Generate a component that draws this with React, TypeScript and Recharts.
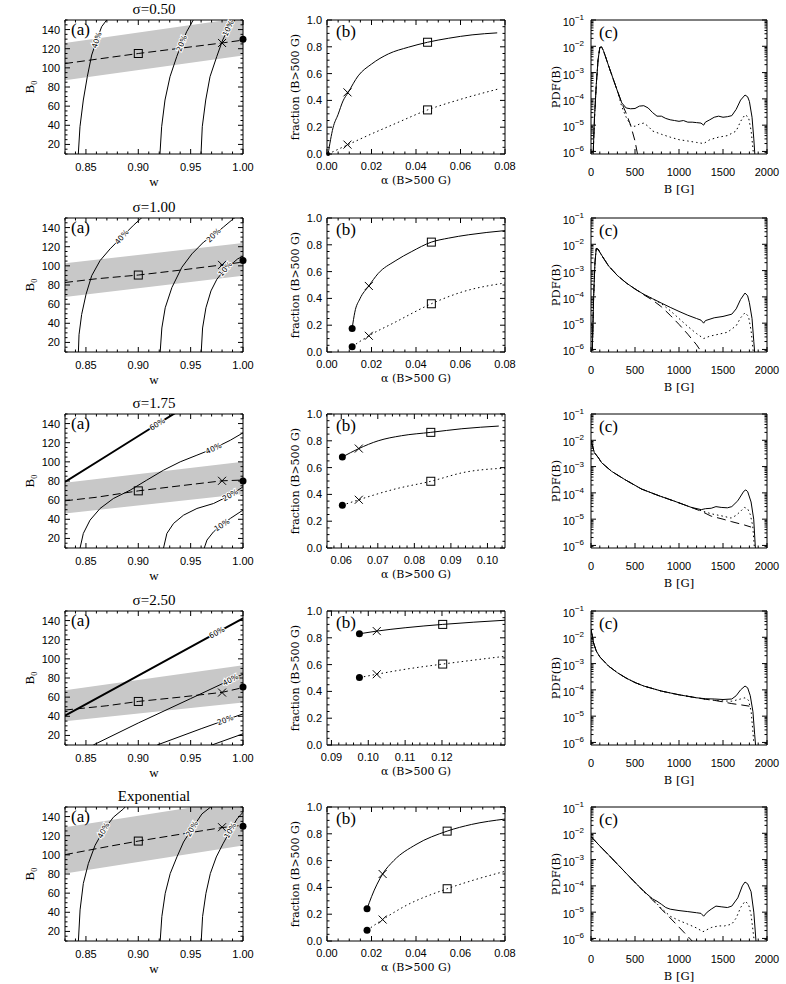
import React from "react";
import { ComposedChart, Line, Area, Scatter, XAxis, YAxis } from "recharts";

type P = [number, number];
type B3 = [number, number, number];

const rowTitles = ["σ=0.50", "σ=1.00", "σ=1.75", "σ=2.50", "Exponential"];

// ---------- column (a): B0 vs w ----------
const a1Band: B3[] = [[0.83, 87, 126], [1.0, 113, 152.5]];
const a1Dash: P[] = [[0.83, 104.5], [0.86, 109], [0.9, 115], [0.94, 120.5], [0.98, 126], [1.0, 129]];
const a1C40: P[] = [[0.8427, 10], [0.8443, 38.5], [0.8475, 66.4], [0.8513, 90.8], [0.8555, 113.4], [0.8603, 129.1], [0.865, 143], [0.8698, 150], [0.8715, 153]];
const a1C20: P[] = [[0.9207, 10], [0.9223, 38.5], [0.9255, 66.4], [0.9303, 90.8], [0.9367, 111.7], [0.9415, 125.7], [0.9462, 137.8], [0.9525, 150], [0.954, 153]];
const a1C10: P[] = [[0.9599, 10], [0.9611, 38.5], [0.9644, 66.4], [0.9685, 90.8], [0.9749, 111.7], [0.9806, 129.1], [0.986, 141.3], [0.9924, 150], [0.994, 153]];
const a1Marks: P[] = [[0.9, 115], [0.98, 126], [1.0, 130]];

const a2Band: B3[] = [[0.83, 67.5, 102.7], [1.0, 89.7, 123.8]];
const a2Dash: P[] = [[0.83, 82.6], [0.86, 86.5], [0.9, 90.4], [0.94, 95.5], [0.98, 101], [1.0, 104]];
const a2C40: P[] = [[0.8428, 10], [0.8434, 28.1], [0.8459, 49.2], [0.8501, 70.3], [0.8555, 89.7], [0.8635, 105.5], [0.8731, 117.8], [0.8842, 130.1], [0.8954, 142.4], [0.905, 152]];
const a2C20: P[] = [[0.9209, 10], [0.9225, 35.1], [0.9257, 56.2], [0.9321, 77.4], [0.9416, 98.5], [0.9512, 112.5], [0.9624, 124.9], [0.9719, 131.9], [0.9815, 140.7], [0.9911, 149.5], [0.9959, 153]];
const a2C10: P[] = [[0.9601, 10], [0.9614, 35.1], [0.9646, 56.2], [0.9694, 73.8], [0.9751, 86.1], [0.9831, 96.7], [0.9911, 103.7], [0.9949, 107.3], [1.0, 110]];
const a2Marks: P[] = [[0.9, 90.4], [0.98, 101], [1.0, 105.5]];

const a3Band: B3[] = [[0.83, 46.1, 78.1], [1.0, 66.3, 100]];
const a3Dash: P[] = [[0.83, 59.3], [0.86, 63], [0.9, 69.7], [0.94, 75], [0.98, 80.2], [1.0, 81]];
const a3C60: P[] = [[0.83, 79], [0.87, 106.4], [0.918, 139.3], [0.9367, 152]];
const a3C40: P[] = [[0.8444, 10], [0.8475, 25.2], [0.8539, 39.1], [0.8635, 51.3], [0.8762, 61.7], [0.8922, 70.4], [0.9081, 80.9], [0.9241, 91.3], [0.94, 100], [0.956, 107], [0.9719, 113.9], [0.9879, 122.6], [1.0, 130.3]];
const a3C20: P[] = [[0.9241, 10], [0.9273, 25.2], [0.9337, 35.7], [0.9432, 44.3], [0.956, 51.3], [0.9719, 56.5], [0.9879, 65.2], [1.0, 73.9]];
const a3C10: P[] = [[0.963, 10], [0.9656, 18.3], [0.9719, 27], [0.9799, 33.9], [0.9879, 40.9], [1.0, 49.6]];
const a3Marks: P[] = [[0.9, 69.7], [0.98, 80.2], [1.0, 80]];

const a4Band: B3[] = [[0.83, 34.8, 67.2], [1.0, 54.5, 93.4]];
const a4Dash: P[] = [[0.83, 46.5], [0.87, 51], [0.9, 55.5], [0.94, 60], [0.98, 65], [1.0, 70]];
const a4C60: P[] = [[0.83, 40.7], [0.9, 82.6], [0.975, 127.4], [1.0, 142.4]];
const a4C40: P[] = [[0.857, 10], [0.9, 33], [0.95, 58.5], [0.988, 78], [1.0, 84]];
const a4C20: P[] = [[0.918, 10], [0.96, 27], [0.983, 36], [1.0, 42.5]];
const a4C10: P[] = [[0.9703, 10], [1.0, 21.7]];
const a4Marks: P[] = [[0.9, 55.5], [0.98, 64.8], [1.0, 70.5]];

const a5Band: B3[] = [[0.83, 80.5, 128.9], [1.0, 109.9, 158]];
const a5Dash: P[] = [[0.83, 100.2], [0.87, 108.5], [0.9, 114.4], [0.94, 121.5], [0.98, 128.5], [1.0, 131]];
const a5C40: P[] = [[0.8428, 10], [0.8444, 42.5], [0.8475, 70.1], [0.8523, 90.9], [0.8587, 109.9], [0.8667, 125.5], [0.8762, 139.3], [0.8858, 148], [0.889, 152]];
const a5C20: P[] = [[0.9209, 10], [0.9225, 35.6], [0.9257, 59.8], [0.9305, 80.5], [0.9369, 97.8], [0.9432, 113.4], [0.9512, 127.2], [0.9608, 142.8], [0.9688, 149.7], [0.971, 152]];
const a5C10: P[] = [[0.9601, 10], [0.9614, 35.6], [0.9646, 59.8], [0.9688, 80.5], [0.9745, 97.8], [0.9809, 111.6], [0.9879, 125.5], [0.9943, 137.6], [1.0, 144.5]];
const a5Marks: P[] = [[0.9, 114.4], [0.98, 128.9], [1.0, 130]];

// ---------- column (b): fraction vs alpha ----------
const b1Solid: P[] = [[0.0005, 0], [0.0027, 0.195], [0.005, 0.296], [0.0072, 0.396], [0.0095, 0.459], [0.014, 0.583], [0.02, 0.671], [0.0276, 0.747], [0.0366, 0.797], [0.0452, 0.834], [0.0547, 0.864], [0.0652, 0.889], [0.0765, 0.904]];
const b1Dot: P[] = [[0.0005, 0], [0.0095, 0.07], [0.02, 0.15], [0.03, 0.222], [0.0452, 0.329], [0.06, 0.408], [0.0765, 0.483]];
const b1Sq: P[] = [[0.0452, 0.834], [0.0452, 0.329]];
const b1Cr: P[] = [[0.0092, 0.46], [0.0092, 0.07]];
const b1Dt: P[] = [[0.0005, 0]];

const b2Solid: P[] = [[0.0113, 0.176], [0.0125, 0.297], [0.0148, 0.397], [0.0188, 0.493], [0.023, 0.586], [0.0306, 0.679], [0.0381, 0.75], [0.0469, 0.82], [0.0547, 0.85], [0.0637, 0.875], [0.08, 0.906]];
const b2Dot: P[] = [[0.0113, 0.04], [0.0188, 0.121], [0.0306, 0.222], [0.0469, 0.36], [0.0607, 0.448], [0.08, 0.515]];
const b2Sq: P[] = [[0.0469, 0.82], [0.0469, 0.36]];
const b2Cr: P[] = [[0.0188, 0.493], [0.0188, 0.121]];
const b2Dt: P[] = [[0.0113, 0.176], [0.0113, 0.04]];

const b3Solid: P[] = [[0.0603, 0.679], [0.0648, 0.742], [0.0701, 0.8], [0.0765, 0.838], [0.0845, 0.863], [0.093, 0.89], [0.1031, 0.91]];
const b3Dot: P[] = [[0.0603, 0.319], [0.0648, 0.36], [0.0747, 0.44], [0.0845, 0.498], [0.0939, 0.566], [0.1048, 0.596]];
const b3Sq: P[] = [[0.0845, 0.863], [0.0845, 0.498]];
const b3Cr: P[] = [[0.0648, 0.742], [0.0648, 0.36]];
const b3Dt: P[] = [[0.0603, 0.679], [0.0603, 0.319]];

const b4Solid: P[] = [[0.0976, 0.83], [0.1023, 0.85], [0.11, 0.875], [0.1202, 0.9], [0.1371, 0.931]];
const b4Dot: P[] = [[0.0976, 0.503], [0.1023, 0.528], [0.11, 0.565], [0.1202, 0.604], [0.1371, 0.662]];
const b4Sq: P[] = [[0.1202, 0.9], [0.1202, 0.604]];
const b4Cr: P[] = [[0.1023, 0.85], [0.1023, 0.528]];
const b4Dt: P[] = [[0.0976, 0.83], [0.0976, 0.503]];

const b5Solid: P[] = [[0.018, 0.24], [0.02, 0.33], [0.025, 0.5], [0.03, 0.6], [0.04, 0.72], [0.054, 0.82], [0.065, 0.87], [0.08, 0.91]];
const b5Dot: P[] = [[0.018, 0.08], [0.025, 0.16], [0.035, 0.26], [0.054, 0.39], [0.065, 0.45], [0.08, 0.52]];
const b5Sq: P[] = [[0.054, 0.82], [0.054, 0.39]];
const b5Cr: P[] = [[0.025, 0.5], [0.025, 0.16]];
const b5Dt: P[] = [[0.018, 0.24], [0.018, 0.08]];

// ---------- column (c): PDF(B) ----------
const c1Solid: P[] = [[20, 3e-7], [40, 2e-5], [60, 3.5e-4], [80, 3e-3], [100, 9e-3], [120, 9.5e-3], [140, 7e-3], [160, 4.5e-3], [200, 1.8e-3], [250, 6e-4], [300, 2e-4], [350, 7e-5], [400, 4.5e-5], [450, 4.2e-5], [500, 4.3e-5], [550, 5.3e-5], [600, 5.5e-5], [650, 4.5e-5], [700, 3e-5], [750, 2.2e-5], [800, 2.2e-5], [850, 1.8e-5], [900, 1.6e-5], [950, 1.5e-5], [1000, 1.4e-5], [1050, 1.5e-5], [1100, 1.3e-5], [1150, 1.3e-5], [1200, 1.25e-5], [1250, 1.2e-5], [1280, 1.0e-5], [1300, 1.3e-5], [1350, 1.6e-5], [1400, 2e-5], [1450, 2.2e-5], [1500, 2e-5], [1550, 2.1e-5], [1600, 2.3e-5], [1650, 4e-5], [1700, 9e-5], [1750, 1.4e-4], [1780, 1.2e-4], [1800, 8e-5], [1830, 2e-5], [1850, 3e-6], [1870, 3e-7]];
const c1Dot: P[] = [[20, 3e-7], [40, 2e-5], [60, 3.5e-4], [80, 3e-3], [100, 9e-3], [120, 9.5e-3], [140, 7e-3], [160, 4.5e-3], [200, 1.8e-3], [250, 6e-4], [300, 2e-4], [350, 5e-5], [400, 2e-5], [450, 1e-5], [500, 9e-6], [550, 1.1e-5], [600, 1.2e-5], [650, 9e-6], [700, 6e-6], [800, 4.5e-6], [900, 3.5e-6], [1000, 2.8e-6], [1100, 2.5e-6], [1200, 2.2e-6], [1280, 2e-6], [1350, 2.8e-6], [1450, 3.5e-6], [1550, 4e-6], [1650, 6e-6], [1700, 1.4e-5], [1750, 2.5e-5], [1790, 2e-5], [1820, 6e-6], [1850, 6e-7]];
const c1Dash: P[] = [[20, 3e-7], [40, 2e-5], [60, 3.5e-4], [80, 3e-3], [100, 9e-3], [120, 9.5e-3], [140, 7e-3], [160, 4.5e-3], [200, 1.8e-3], [250, 6e-4], [300, 2e-4], [350, 7e-5], [400, 2.8e-5], [450, 1e-5], [500, 2.5e-6], [540, 5e-7]];

const c2Solid: P[] = [[15, 1e-6], [30, 1e-4], [45, 2e-3], [60, 7e-3], [80, 6.5e-3], [100, 5e-3], [150, 2.7e-3], [200, 1.5e-3], [300, 6.5e-4], [400, 3.4e-4], [500, 2e-4], [600, 1.25e-4], [700, 8.5e-5], [800, 5.8e-5], [900, 4e-5], [1000, 2.8e-5], [1100, 2e-5], [1200, 1.5e-5], [1250, 1.3e-5], [1280, 1e-5], [1300, 1.25e-5], [1400, 1.6e-5], [1500, 1.8e-5], [1600, 2.2e-5], [1650, 3.5e-5], [1700, 8e-5], [1750, 1.4e-4], [1780, 1.1e-4], [1800, 6e-5], [1830, 1.5e-5], [1850, 2e-6], [1870, 3e-7]];
const c2Dot: P[] = [[15, 1e-6], [30, 1e-4], [45, 2e-3], [60, 7e-3], [80, 6.5e-3], [100, 5e-3], [150, 2.7e-3], [200, 1.5e-3], [300, 6.5e-4], [400, 3.4e-4], [500, 2e-4], [600, 1.25e-4], [700, 8.5e-5], [800, 5.5e-5], [900, 3e-5], [1000, 1.5e-5], [1100, 7.5e-6], [1200, 4e-6], [1280, 2.6e-6], [1350, 3.2e-6], [1450, 3.8e-6], [1550, 4.5e-6], [1650, 8e-6], [1700, 1.6e-5], [1750, 2.5e-5], [1790, 1.8e-5], [1820, 5e-6], [1850, 5e-7]];
const c2Dash: P[] = [[15, 1e-6], [30, 1e-4], [45, 2e-3], [60, 7e-3], [80, 6.5e-3], [100, 5e-3], [150, 2.7e-3], [200, 1.5e-3], [300, 6.5e-4], [400, 3.4e-4], [500, 2e-4], [600, 1.2e-4], [700, 7.5e-5], [800, 4.2e-5], [900, 2e-5], [1000, 9e-6], [1100, 3.8e-6], [1200, 1.5e-6], [1280, 6e-7]];

const c3Solid: P[] = [[0, 1e-2], [38, 3.4e-3], [83, 2.2e-3], [121, 1.4e-3], [234, 6.6e-4], [385, 3.2e-4], [574, 1.4e-4], [762, 8e-5], [951, 4.8e-5], [1140, 2.8e-5], [1253, 2.3e-5], [1300, 2.5e-5], [1366, 2.6e-5], [1420, 3e-5], [1479, 2.8e-5], [1550, 2.7e-5], [1600, 3e-5], [1668, 5e-5], [1736, 1.15e-4], [1760, 1.3e-4], [1781, 1.1e-4], [1819, 4.5e-5], [1849, 1e-5], [1868, 8e-7]];
const c3Dot: P[] = [[0, 1e-2], [38, 3.4e-3], [83, 2.2e-3], [121, 1.4e-3], [234, 6.6e-4], [385, 3.2e-4], [574, 1.4e-4], [762, 8e-5], [951, 4.8e-5], [1140, 2.8e-5], [1253, 2.1e-5], [1366, 1.6e-5], [1500, 1.3e-5], [1592, 1.1e-5], [1650, 1.4e-5], [1700, 2e-5], [1743, 2.8e-5], [1780, 2.5e-5], [1810, 1.5e-5], [1838, 5.5e-6], [1857, 8e-7]];
const c3Dash: P[] = [[0, 1e-2], [38, 3.4e-3], [83, 2.2e-3], [121, 1.4e-3], [234, 6.6e-4], [385, 3.2e-4], [574, 1.4e-4], [762, 8e-5], [951, 4.8e-5], [1140, 2.8e-5], [1253, 2e-5], [1366, 1.3e-5], [1500, 1e-5], [1600, 8e-6], [1743, 6e-6], [1819, 5e-6]];

const c4Solid: P[] = [[0, 2e-2], [30, 6e-3], [60, 3e-3], [100, 1.8e-3], [200, 8e-4], [300, 4.5e-4], [400, 2.8e-4], [500, 1.9e-4], [600, 1.4e-4], [800, 9e-5], [1000, 6.5e-5], [1200, 5e-5], [1300, 4.6e-5], [1400, 4.5e-5], [1500, 4.3e-5], [1600, 4.5e-5], [1650, 6e-5], [1700, 1e-4], [1750, 1.4e-4], [1780, 1.2e-4], [1810, 6e-5], [1840, 1.5e-5], [1860, 2e-6], [1875, 5e-7]];
const c4Dot: P[] = [[0, 2e-2], [30, 6e-3], [60, 3e-3], [100, 1.8e-3], [200, 8e-4], [300, 4.5e-4], [400, 2.8e-4], [500, 1.9e-4], [600, 1.4e-4], [800, 9e-5], [1000, 6.5e-5], [1200, 5e-5], [1300, 4.4e-5], [1400, 4e-5], [1500, 3.8e-5], [1600, 3.7e-5], [1700, 4.5e-5], [1750, 5e-5], [1790, 4e-5], [1820, 1.5e-5], [1850, 1e-6]];
const c4Dash: P[] = [[0, 2e-2], [30, 6e-3], [60, 3e-3], [100, 1.8e-3], [200, 8e-4], [300, 4.5e-4], [400, 2.8e-4], [500, 1.9e-4], [600, 1.4e-4], [800, 9e-5], [1000, 6.5e-5], [1200, 5e-5], [1300, 4.4e-5], [1400, 4e-5], [1500, 3.5e-5], [1600, 3e-5], [1700, 2.7e-5], [1800, 2.4e-5]];

const c5Solid: P[] = [[0, 7.5e-3], [100, 3.3e-3], [200, 1.5e-3], [300, 6.7e-4], [400, 3e-4], [500, 1.35e-4], [600, 6.2e-5], [700, 3.2e-5], [750, 2.6e-5], [800, 2e-5], [850, 1.5e-5], [900, 1.3e-5], [1000, 1.15e-5], [1100, 1.05e-5], [1200, 9.5e-6], [1250, 9e-6], [1280, 7e-6], [1320, 1e-5], [1366, 1.3e-5], [1420, 1.7e-5], [1479, 1.6e-5], [1550, 1.5e-5], [1600, 1.7e-5], [1668, 3.5e-5], [1720, 1e-4], [1750, 1.4e-4], [1780, 1.2e-4], [1819, 6e-5], [1850, 1e-5], [1876, 7e-7]];
const c5Dot: P[] = [[0, 7.5e-3], [100, 3.3e-3], [200, 1.5e-3], [300, 6.7e-4], [400, 3e-4], [500, 1.35e-4], [600, 6.2e-5], [700, 3.1e-5], [800, 1.4e-5], [900, 7e-6], [1000, 4.8e-6], [1100, 3.5e-6], [1200, 2.5e-6], [1272, 1.8e-6], [1366, 2.6e-6], [1450, 3e-6], [1517, 3e-6], [1600, 3.5e-6], [1650, 6e-6], [1700, 1.5e-5], [1750, 2.6e-5], [1790, 2e-5], [1819, 8e-6], [1857, 7e-7]];
const c5Dash: P[] = [[0, 7.5e-3], [100, 3.3e-3], [200, 1.5e-3], [300, 6.7e-4], [400, 3e-4], [500, 1.35e-4], [600, 6.2e-5], [700, 2.9e-5], [800, 1.3e-5], [900, 6e-6], [1000, 2.7e-6], [1100, 1.2e-6], [1150, 8e-7]];

// ---------- axis ticks ----------
const steps = (a: number, b: number, s: number) => {
  const r: number[] = [];
  for (let v = a; v <= b + s / 1000; v += s) r.push(+v.toFixed(6));
  return r;
};
const near = (list: number[], v: number) => list.some((m) => Math.abs(m - v) <= Math.abs(m) * 1e-6 + 1e-9);
const minors = (all: number[], maj: number[]) => all.filter((v) => !near(maj, v));

const wMaj = [0.85, 0.9, 0.95, 1.0];
const wMin = minors(steps(0.83, 1.0, 0.01), wMaj);
const bMaj = [20, 40, 60, 80, 100, 120, 140];
const bMin = minors(steps(10, 150, 5), bMaj);

const alphaMaj = [0, 0.02, 0.04, 0.06, 0.08];
const alphaMin = minors(steps(0, 0.08, 0.005), alphaMaj);
const alpha3Maj = [0.06, 0.07, 0.08, 0.09, 0.1];
const alpha3Min = minors(steps(0.056, 0.104, 0.002), alpha3Maj);
const alpha4Maj = [0.09, 0.1, 0.11, 0.12];
const alpha4Min = minors(steps(0.09, 0.136, 0.002), alpha4Maj);
const fracMaj = [0, 0.2, 0.4, 0.6, 0.8, 1.0];
const fracMin = minors(steps(0, 1, 0.05), fracMaj);

const bgMaj = [0, 500, 1000, 1500, 2000];
const bgMin = minors(steps(0, 2000, 100), bgMaj);
const pdfMaj = [1e-6, 1e-5, 1e-4, 1e-3, 1e-2, 1e-1];
const pdfMin = [-7, -6, -5, -4, -3, -2].flatMap((d) => [2, 3, 4, 5, 6, 7, 8, 9].map((k) => +(k * Math.pow(10, d)).toPrecision(3))).filter((v) => v > 8e-7 && v < 0.1);

const pts = (a: P[]) => a.map(([x, y]) => ({ x, y }));
const band = (a: B3[]) => a.map(([x, lo, hi]) => ({ x, band: [lo, hi] }));

type Side = "b" | "t" | "l" | "r";
const tickFont = { fontFamily: "Liberation Sans, Arial, sans-serif", fontSize: 11, fill: "#000" };

function makeTick(side: Side, major: number[], fmt: ((v: number) => React.ReactNode) | null, gap: number, log = false) {
  return (p: any) => {
    const v = p.payload.value;
    const big = near(major, v);
    const L = big ? 5 : 2.5;
    const x = p.x;
    const y = p.y;
    let d = "";
    if (side === "b") d = `M${x},${y}V${y - L}`;
    else if (side === "t") d = `M${x},${y}V${y + L}`;
    else if (side === "l") d = `M${x},${y}H${x + L}`;
    else d = `M${x},${y}H${x - L}`;
    return (
      <g>
        <path d={d} stroke="#000" strokeWidth={1} />
        {big && fmt && side === "b" && (
          <text x={x} y={y + gap} textAnchor="middle" {...tickFont}>{fmt(v)}</text>
        )}
        {big && fmt && side === "l" && (
          <text x={x - gap} y={y + (log ? 6 : 4)} textAnchor="end" {...tickFont}>{fmt(v)}</text>
        )}
      </g>
    );
  };
}

const fmtPow = (v: number) => {
  const n = Math.round(Math.log10(v));
  return (
    <>
      <tspan>10</tspan>
      <tspan dy={-6} fontSize={8}>{"−" + Math.abs(n)}</tspan>
    </>
  );
};

const sqShape = (p: any) => <rect x={p.cx - 4} y={p.cy - 4} width={8} height={8} fill="none" stroke="#000" strokeWidth={1} />;
const crShape = (p: any) => (
  <path d={`M${p.cx - 4},${p.cy - 4}L${p.cx + 4},${p.cy + 4}M${p.cx - 4},${p.cy + 4}L${p.cx + 4},${p.cy - 4}`} stroke="#000" strokeWidth={1} />
);
const dotShape = (r: number) => (p: any) => <circle cx={p.cx} cy={p.cy} r={r} fill="#000" />;

const contourLabel = (text: string, idx: number, angle: number) => (p: any) =>
  p.index === idx ? (
    <text
      x={p.x}
      y={p.y}
      textAnchor="middle"
      dominantBaseline="central"
      transform={`rotate(${angle} ${p.x} ${p.y})`}
      fontFamily="DejaVu Sans, sans-serif"
      fontSize={7.5}
      fill="#000"
      stroke="#fff"
      strokeWidth={2}
      paintOrder="stroke"
    >
      {text}
    </text>
  ) : (
    <g />
  );

const W = 262;
const H = 197;
const rowTop = [20, 218, 414, 611, 807];
const plotH = 134;
const colLeft = [0, 262, 524];
const mLeft = [65, 65, 67];

interface FrameProps {
  col: number;
  row: number;
  xDom: [number, number];
  yDom: [number, number];
  xMaj: number[];
  xMin: number[];
  yMaj: number[];
  yMin: number[];
  fx: (v: number) => React.ReactNode;
  fy: (v: number) => React.ReactNode;
  xGap: number;
  yGap: number;
  log?: boolean;
  data?: any[];
  children: React.ReactNode;
}

// each axis is 1px thick, so margins are 1px smaller than the plot offsets
function Frame(f: FrameProps) {
  const xt = [...f.xMaj, ...f.xMin];
  const yt = [...f.yMaj, ...f.yMin];
  const sc = f.log ? "log" : "linear";
  const common = { axisLine: { stroke: "#000", strokeWidth: 1 }, tickLine: false, tickSize: 0, tickMargin: 0, interval: 0 as const };
  return (
    <div style={{ position: "absolute", left: colLeft[f.col], top: rowTop[f.row] - 20 }}>
      <ComposedChart width={W} height={H} data={f.data} margin={{ top: 19, right: 18, bottom: H - 20 - plotH - 1, left: mLeft[f.col] - 1 }}>
        <XAxis dataKey="x" type="number" domain={f.xDom} allowDataOverflow ticks={xt} height={1} {...common} tick={makeTick("b", f.xMaj, f.fx, f.xGap)} />
        <XAxis xAxisId="t" orientation="top" dataKey="x" type="number" domain={f.xDom} ticks={xt} height={1} {...common} tick={makeTick("t", f.xMaj, null, 0)} />
        <YAxis type="number" scale={sc} domain={f.yDom} allowDataOverflow ticks={yt} width={1} {...common} tick={makeTick("l", f.yMaj, f.fy, f.yGap, f.log)} />
        <YAxis yAxisId="r" orientation="right" type="number" scale={sc} domain={f.yDom} allowDataOverflow={!!f.log} ticks={yt} width={1} {...common} tick={makeTick("r", f.yMaj, null, 0)} />
        {f.children}
      </ComposedChart>
    </div>
  );
}

interface Contour {
  p: P[];
  text: string;
  idx: number;
  ang: number;
  thick?: boolean;
}

function PanelA({ row, bandRows, dash, contours, marks }: { row: number; bandRows: B3[]; dash: P[]; contours: Contour[]; marks: P[] }) {
  return (
    <Frame col={0} row={row} xDom={[0.83, 1.0]} yDom={[10, 150]} xMaj={wMaj} xMin={wMin} yMaj={bMaj} yMin={bMin}
      fx={(v) => v.toFixed(2)} fy={(v) => String(v)} xGap={17} yGap={5} data={band(bandRows)}>
      <Area dataKey="band" stroke="none" fill="#c8c8c8" fillOpacity={1} isAnimationActive={false} type="linear" />
      {contours.map((c, i) => (
        <Line key={i} data={pts(c.p)} dataKey="y" type="linear" stroke="#000" strokeWidth={c.thick ? 2 : 1} dot={false}
          isAnimationActive={false} label={c.text ? contourLabel(c.text, c.idx, c.ang) : false} />
      ))}
      <Line data={pts(dash)} dataKey="y" type="linear" stroke="#000" strokeWidth={1} strokeDasharray="8 4" dot={false} isAnimationActive={false} />
      <Scatter xAxisId="t" yAxisId="r" data={pts([marks[0]])} dataKey="y" shape={sqShape} isAnimationActive={false} />
      <Scatter xAxisId="t" yAxisId="r" data={pts([marks[1]])} dataKey="y" shape={crShape} isAnimationActive={false} />
      <Scatter xAxisId="t" yAxisId="r" data={pts([marks[2]])} dataKey="y" shape={dotShape(3.5)} isAnimationActive={false} />
    </Frame>
  );
}

function PanelB({ row, xDom, xMaj, xMin, solid, dotted, sq, cr, dt, dotR = 3.5 }: { row: number; xDom: [number, number]; xMaj: number[]; xMin: number[]; solid: P[]; dotted: P[]; sq: P[]; cr: P[]; dt: P[]; dotR?: number }) {
  return (
    <Frame col={1} row={row} xDom={xDom} yDom={[0, 1]} xMaj={xMaj} xMin={xMin} yMaj={fracMaj} yMin={fracMin}
      fx={(v) => v.toFixed(2)} fy={(v) => v.toFixed(1)} xGap={16} yGap={5}>
      <Line data={pts(solid)} dataKey="y" type="monotone" stroke="#000" strokeWidth={1} dot={false} isAnimationActive={false} />
      <Line data={pts(dotted)} dataKey="y" type="monotone" stroke="#000" strokeWidth={1} strokeDasharray="1.5 3" dot={false} isAnimationActive={false} />
      <Scatter xAxisId="t" yAxisId="r" data={pts(sq)} dataKey="y" shape={sqShape} isAnimationActive={false} />
      <Scatter xAxisId="t" yAxisId="r" data={pts(cr)} dataKey="y" shape={crShape} isAnimationActive={false} />
      <Scatter xAxisId="t" yAxisId="r" data={pts(dt)} dataKey="y" shape={dotShape(dotR)} isAnimationActive={false} />
    </Frame>
  );
}

function PanelC({ row, solid, dotted, dashed }: { row: number; solid: P[]; dotted: P[]; dashed: P[] }) {
  return (
    <Frame col={2} row={row} xDom={[0, 2000]} yDom={[8e-7, 0.1]} xMaj={bgMaj} xMin={bgMin} yMaj={pdfMaj} yMin={pdfMin}
      fx={(v) => String(v)} fy={fmtPow} xGap={22} yGap={7} log>
      <Line data={pts(dashed)} dataKey="y" type="linear" stroke="#000" strokeWidth={1} strokeDasharray="9 5" dot={false} isAnimationActive={false} />
      <Line data={pts(dotted)} dataKey="y" type="linear" stroke="#000" strokeWidth={1} strokeDasharray="1.5 3" dot={false} isAnimationActive={false} />
      <Line data={pts(solid)} dataKey="y" type="linear" stroke="#000" strokeWidth={1} dot={false} isAnimationActive={false} />
    </Frame>
  );
}

const serif = "Liberation Serif, Times New Roman, serif";
const serif2 = "DejaVu Serif, serif";

function Labels() {
  return (
    <svg width={786} height={984} style={{ position: "absolute", left: 0, top: 0, pointerEvents: "none" }}>
      {rowTop.map((t, i) => {
        const bot = t + plotH;
        const cy = t + plotH / 2;
        return (
          <g key={i} fill="#000">
            <text x={154} y={t - 6} textAnchor="middle" fontFamily={serif} fontSize={15}>{rowTitles[i]}</text>
            <text x={71} y={t + 15} fontFamily={serif} fontSize={17}>(a)</text>
            <text x={336} y={t + 17} fontFamily={serif} fontSize={17}>(b)</text>
            <text x={599} y={t + 18} fontFamily={serif} fontSize={17}>(c)</text>
            <text x={29} y={cy} textAnchor="middle" dominantBaseline="central" transform={`rotate(-90 29 ${cy})`} fontFamily={serif} fontSize={13}>B₀</text>
            <text x={295} y={cy} textAnchor="middle" dominantBaseline="central" transform={`rotate(-90 295 ${cy})`} fontFamily={serif2} fontSize={11}>fraction (B&gt;500 G)</text>
            <text x={556} y={cy} textAnchor="middle" dominantBaseline="central" transform={`rotate(-90 556 ${cy})`} fontFamily={serif2} fontSize={11.5}>PDF(B)</text>
            <text x={154} y={bot + 32} textAnchor="middle" fontFamily={serif} fontSize={13}>w</text>
            <text x={416} y={bot + 30} textAnchor="middle" fontFamily={serif2} fontSize={11}>α (B&gt;500 G)</text>
            <text x={679} y={bot + 39} textAnchor="middle" fontFamily={serif2} fontSize={11.5}>B [G]</text>
          </g>
        );
      })}
    </svg>
  );
}

export default function App() {
  return (
    <div style={{ position: "absolute", left: 0, top: 0, width: 786, height: 984, background: "#fff" }}>
      <PanelA row={0} bandRows={a1Band} dash={a1Dash} marks={a1Marks} contours={[
        { p: a1C40, text: "40%", idx: 5, ang: -72 },
        { p: a1C20, text: "20%", idx: 5, ang: -69 },
        { p: a1C10, text: "10%", idx: 6, ang: -65 },
      ]} />
      <PanelA row={1} bandRows={a2Band} dash={a2Dash} marks={a2Marks} contours={[
        { p: a2C40, text: "40%", idx: 7, ang: -50 },
        { p: a2C20, text: "20%", idx: 7, ang: -45 },
        { p: a2C10, text: "10%", idx: 5, ang: -50 },
      ]} />
      <PanelA row={2} bandRows={a3Band} dash={a3Dash} marks={a3Marks} contours={[
        { p: a3C60, text: "60%", idx: 2, ang: -32, thick: true },
        { p: a3C40, text: "40%", idx: 10, ang: -25 },
        { p: a3C20, text: "20%", idx: 6, ang: -30 },
        { p: a3C10, text: "10%", idx: 3, ang: -33 },
      ]} />
      <PanelA row={3} bandRows={a4Band} dash={a4Dash} marks={a4Marks} contours={[
        { p: a4C60, text: "60%", idx: 2, ang: -29, thick: true },
        { p: a4C40, text: "40%", idx: 3, ang: -27 },
        { p: a4C20, text: "20%", idx: 2, ang: -20 },
        { p: a4C10, text: "", idx: -1, ang: 0 },
      ]} />
      <PanelA row={4} bandRows={a5Band} dash={a5Dash} marks={a5Marks} contours={[
        { p: a5C40, text: "40%", idx: 5, ang: -62 },
        { p: a5C20, text: "20%", idx: 6, ang: -60 },
        { p: a5C10, text: "10%", idx: 6, ang: -60 },
      ]} />

      <PanelB row={0} xDom={[0, 0.08]} xMaj={alphaMaj} xMin={alphaMin} solid={b1Solid} dotted={b1Dot} sq={b1Sq} cr={b1Cr} dt={b1Dt} dotR={2} />
      <PanelB row={1} xDom={[0, 0.08]} xMaj={alphaMaj} xMin={alphaMin} solid={b2Solid} dotted={b2Dot} sq={b2Sq} cr={b2Cr} dt={b2Dt} />
      <PanelB row={2} xDom={[0.0561, 0.1048]} xMaj={alpha3Maj} xMin={alpha3Min} solid={b3Solid} dotted={b3Dot} sq={b3Sq} cr={b3Cr} dt={b3Dt} />
      <PanelB row={3} xDom={[0.0888, 0.1371]} xMaj={alpha4Maj} xMin={alpha4Min} solid={b4Solid} dotted={b4Dot} sq={b4Sq} cr={b4Cr} dt={b4Dt} />
      <PanelB row={4} xDom={[0, 0.08]} xMaj={alphaMaj} xMin={alphaMin} solid={b5Solid} dotted={b5Dot} sq={b5Sq} cr={b5Cr} dt={b5Dt} />

      <PanelC row={0} solid={c1Solid} dotted={c1Dot} dashed={c1Dash} />
      <PanelC row={1} solid={c2Solid} dotted={c2Dot} dashed={c2Dash} />
      <PanelC row={2} solid={c3Solid} dotted={c3Dot} dashed={c3Dash} />
      <PanelC row={3} solid={c4Solid} dotted={c4Dot} dashed={c4Dash} />
      <PanelC row={4} solid={c5Solid} dotted={c5Dot} dashed={c5Dash} />

      <Labels />
    </div>
  );
}
